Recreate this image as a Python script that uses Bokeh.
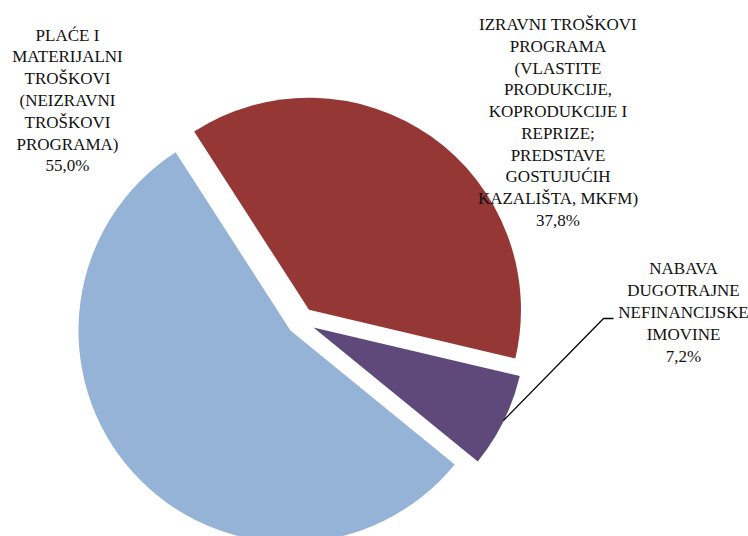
import math
from bokeh.plotting import figure
from bokeh.models import Range1d, ColumnDataSource
from bokeh.embed import file_html
from bokeh.resources import INLINE
from bokeh.core.properties import value

# ---- data ----
categories = [
    "PLAĆE I\nMATERIJALNI\nTROŠKOVI\n(NEIZRAVNI\nTROŠKOVI\nPROGRAMA)",
    "IZRAVNI TROŠKOVI\nPROGRAMA\n(VLASTITE\nPRODUKCIJE,\nKOPRODUKCIJE I\nREPRIZE;\nPREDSTAVE\nGOSTUJUĆIH\nKAZALIŠTA, MKFM)",
    "NABAVA\nDUGOTRAJNE\nNEFINANCIJSKE\nIMOVINE",
]
shares = [55.0, 37.8, 7.2]
colors = ["#95B3D7", "#953735", "#5F497A"]

# ---- layout (page pixel coords) ----
W, H = 748, 536
cx, cy = 300.4, 320.7          # common pie centre
R = 212                        # radius
explode = 14                   # explosion distance
first_angle = 129.2            # clockwise from 12 o'clock, degrees
label_pos = [(67, 100), (557.5, 122), (683, 312)]
leader = [(503, 420), (603, 318), (613, 318)]

p = figure(width=W, height=H, output_backend="svg", toolbar_location=None,
           x_range=Range1d(0, W), y_range=Range1d(-H, 0),
           x_axis_location=None, y_axis_location=None, min_border=0)
p.grid.visible = False
p.outline_line_color = None
p.background_fill_color = "white"
p.border_fill_color = "white"

total = sum(shares)
xs, ys, sa, ea = [], [], [], []
t = first_angle
for s in shares:
    t1 = t
    t2 = t + 360.0 * s / total
    mid = math.radians((t1 + t2) / 2)
    xs.append(cx + explode * math.sin(mid))
    ys.append(-(cy - explode * math.cos(mid)))
    sa.append(math.radians(90 - t2))
    ea.append(math.radians(90 - t1))
    t = t2

src = ColumnDataSource(dict(x=xs, y=ys, sa=sa, ea=ea, color=colors))
p.wedge(x="x", y="y", radius=R, start_angle="sa", end_angle="ea",
        direction="anticlock", fill_color="color", line_color=None, source=src)

labels = [f"{c}\n{s:.1f}%".replace(".", ",") for c, s in zip(categories, shares)]
lsrc = ColumnDataSource(dict(x=[lp[0] for lp in label_pos],
                             y=[-lp[1] for lp in label_pos], text=labels))
p.text(x="x", y="y", text="text", source=lsrc, text_align="center",
       text_baseline="middle", text_font=value("Liberation Serif"),
       text_font_size="17px", text_line_height=1.147, text_color="#111111")

p.line([q[0] for q in leader], [-q[1] for q in leader], line_color="black",
       line_width=1.3)

open("out.html", "w").write(file_html(p, INLINE))
